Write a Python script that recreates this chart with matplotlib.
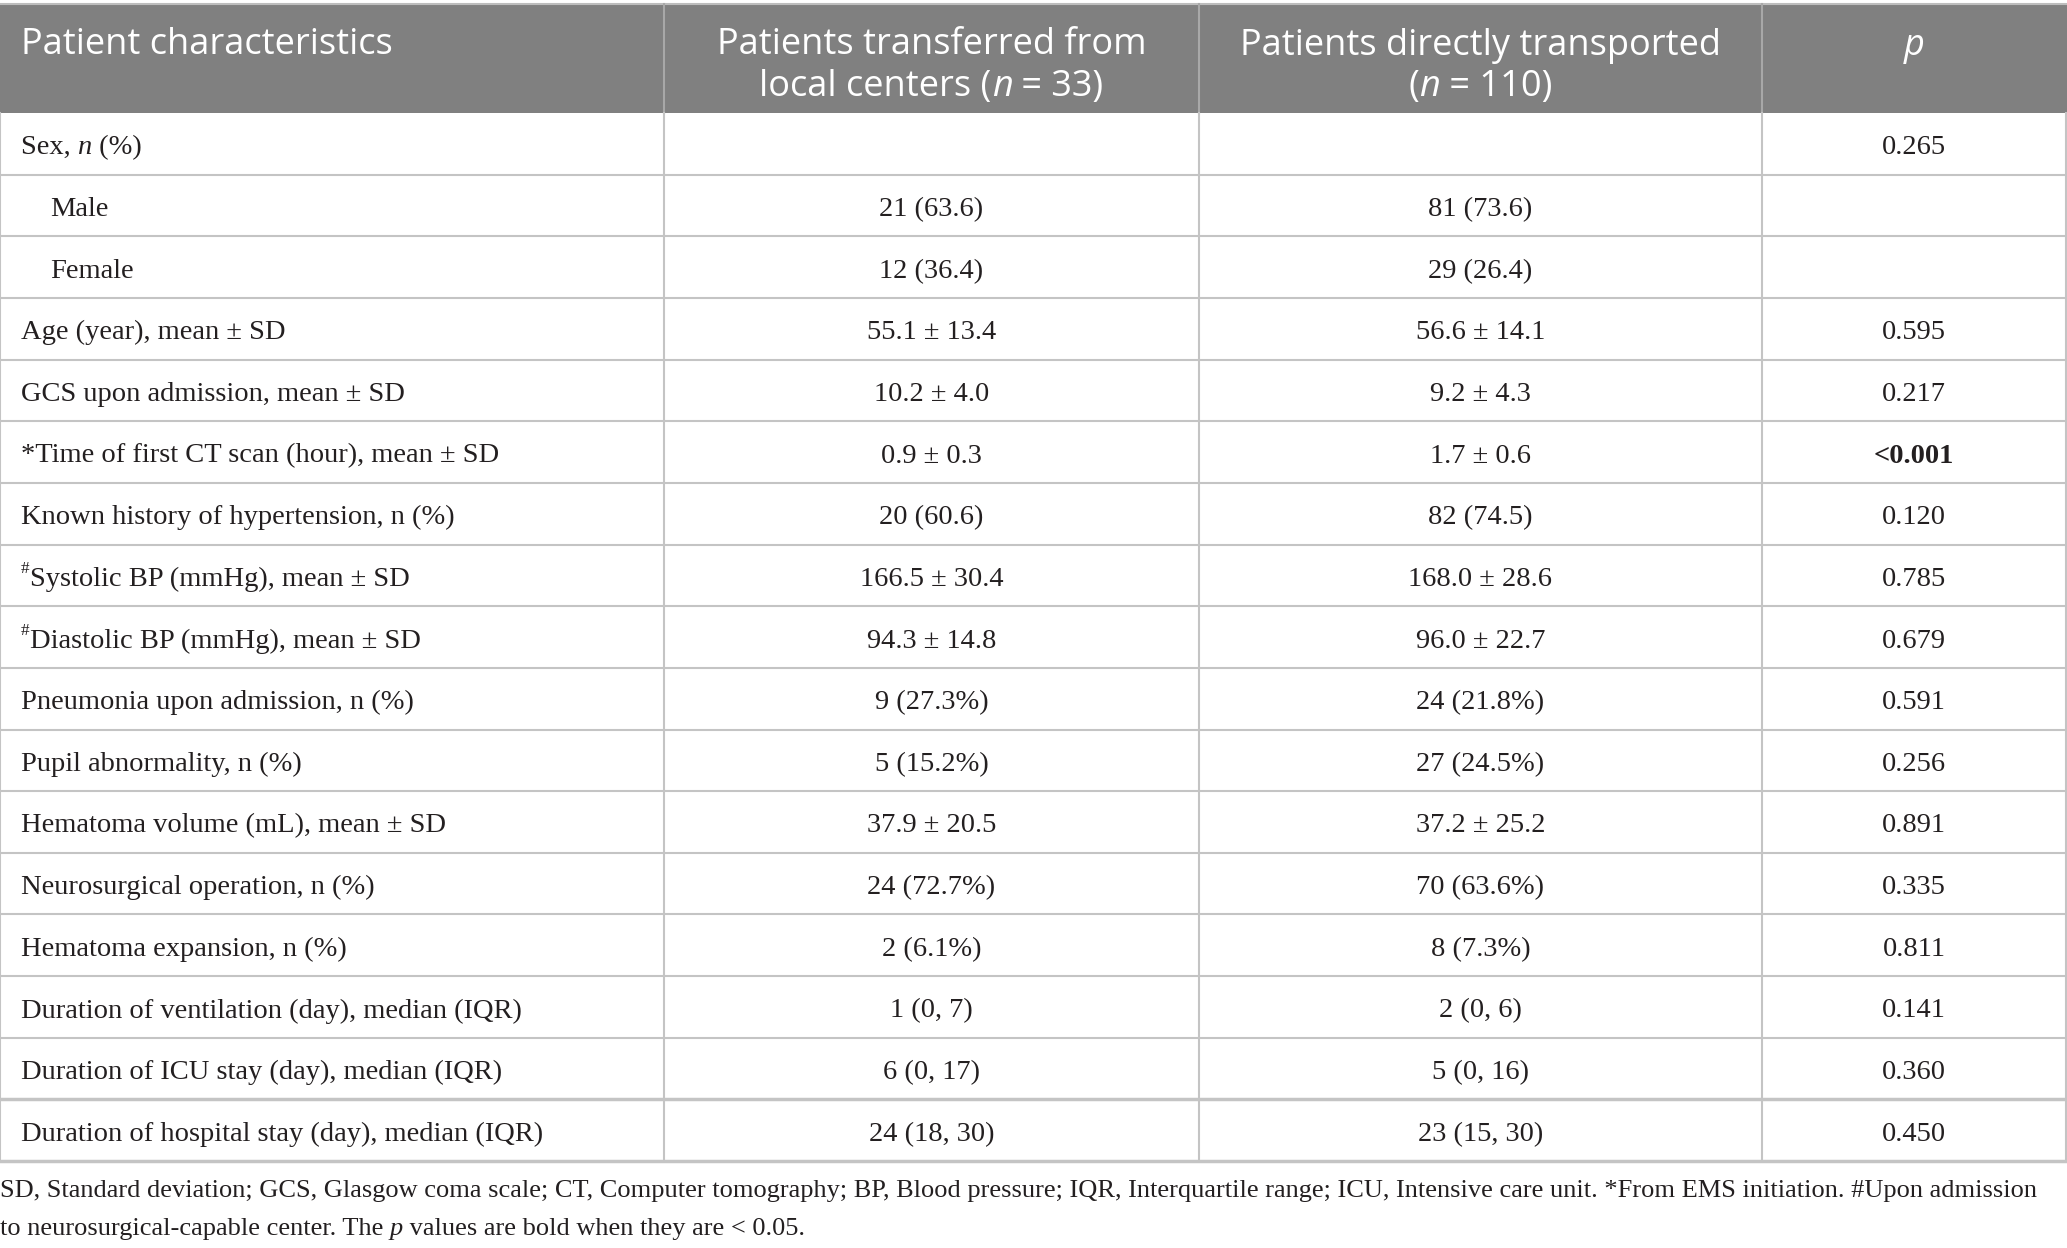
import matplotlib.pyplot as plt
from matplotlib.font_manager import FontProperties

W, H = 2067, 1248

headers = ["Patient characteristics",
           "Patients transferred from\nlocal centers ($n$ = 33)",
           "Patients directly transported\n($n$ = 110)",
           "$p$"]

labels = ["Sex, $n$ (%)", "Male", "Female", "Age (year), mean ± SD",
          "GCS upon admission, mean ± SD",
          "*Time of first CT scan (hour), mean ± SD",
          "Known history of hypertension, n (%)",
          "^#Systolic BP (mmHg), mean ± SD",
          "^#Diastolic BP (mmHg), mean ± SD",
          "Pneumonia upon admission, n (%)",
          "Pupil abnormality, n (%)",
          "Hematoma volume (mL), mean ± SD",
          "Neurosurgical operation, n (%)",
          "Hematoma expansion, n (%)",
          "Duration of ventilation (day), median (IQR)",
          "Duration of ICU stay (day), median (IQR)",
          "Duration of hospital stay (day), median (IQR)"]
level = [0, 1, 1, 0, 0, 0, 0, 0, 0, 0, 0, 0, 0, 0, 0, 0, 0]

transferred = ["", "21 (63.6)", "12 (36.4)", "55.1 ± 13.4", "10.2 ± 4.0",
               "0.9 ± 0.3", "20 (60.6)", "166.5 ± 30.4", "94.3 ± 14.8",
               "9 (27.3%)", "5 (15.2%)", "37.9 ± 20.5", "24 (72.7%)",
               "2 (6.1%)", "1 (0, 7)", "6 (0, 17)", "24 (18, 30)"]
direct = ["", "81 (73.6)", "29 (26.4)", "56.6 ± 14.1", "9.2 ± 4.3",
          "1.7 ± 0.6", "82 (74.5)", "168.0 ± 28.6", "96.0 ± 22.7",
          "24 (21.8%)", "27 (24.5%)", "37.2 ± 25.2", "70 (63.6%)",
          "8 (7.3%)", "2 (0, 6)", "5 (0, 16)", "23 (15, 30)"]
p_values = ["0.265", "", "", "0.595", "0.217", "<0.001", "0.120", "0.785",
            "0.679", "0.591", "0.256", "0.891", "0.335", "0.811", "0.141",
            "0.360", "0.450"]

footnotes = ["SD, Standard deviation; GCS, Glasgow coma scale; CT, Computer tomography; "
             "BP, Blood pressure; IQR, Interquartile range; ICU, Intensive care unit. "
             "*From EMS initiation. #Upon admission",
             "to neurosurgical-capable center. The $p$ values are bold when they are < 0.05."]

# layout (pixels)
col_x = [0, 664, 1199, 1762, W - 1]
head_top, head_bot = 4, 113
row_h = 61.65
line_c = "#c4c4c4"
ink = "#231f20"

SERIF = "Liberation Serif"
SANS = "Open Sans"
body_size = 20.5
foot_size = 19
head_size = 26

fig = plt.figure(figsize=(W / 100, H / 100), dpi=100)
ax = fig.add_axes([0, 0, 1, 1])
ax.set_xlim(0, W)
ax.set_ylim(H, 0)
ax.axis("off")
renderer = fig.canvas.get_renderer()


def fprop(family, size, style="normal", weight="normal"):
    return FontProperties(family=family, size=size, style=style, weight=weight)


def text_width(s, fp):
    t = ax.text(0, 0, s + "|", fontproperties=fp)
    w1 = t.get_window_extent(renderer).width
    t.remove()
    t = ax.text(0, 0, "|", fontproperties=fp)
    w2 = t.get_window_extent(renderer).width
    t.remove()
    return w1 - w2


def parse(s, family, size, weight="normal"):
    runs = []
    if s.startswith("^"):
        runs.append((s[1], fprop(family, size * 0.6, weight=weight), -size * 0.45))
        s = s[2:]
    for i, part in enumerate(s.split("$")):
        if part:
            style = "italic" if i % 2 else "normal"
            runs.append((part, fprop(family, size, style, weight), 0))
    return runs


def draw_runs(x, y, runs, ha="left", color=ink):
    widths = [text_width(s, fp) for s, fp, _ in runs]
    total = sum(widths)
    if ha == "center":
        x = x - total / 2
    for (s, fp, dy), w in zip(runs, widths):
        ax.text(x, y + dy, s, fontproperties=fp, color=color,
                ha="left", va="center_baseline")
        x += w


# header
ax.fill_between([0, W], head_top, head_bot, color="#808080", lw=0)
ax.plot([0, W], [head_top, head_top], color="#bdbdbd", lw=1.5)
for x in col_x[1:-1]:
    ax.plot([x, x], [head_top, head_bot], color="#a8a8a8", lw=1.5)
for j, h in enumerate(headers):
    for k, line in enumerate(h.split("\n")):
        y = 41 + k * 41
        runs = parse(line, SANS, head_size)
        if j == 0:
            draw_runs(21, y, runs, color="white")
        else:
            draw_runs((col_x[j] + col_x[j + 1]) / 2, y, runs, ha="center", color="white")

# body
n = len(labels)
for i in range(n):
    top = head_bot + i * row_h
    yc = top + row_h / 2 + 1
    draw_runs(21 + 29 * level[i], yc, parse(labels[i], SERIF, body_size))
    draw_runs((col_x[1] + col_x[2]) / 2, yc, parse(transferred[i], SERIF, body_size), ha="center")
    draw_runs((col_x[2] + col_x[3]) / 2, yc, parse(direct[i], SERIF, body_size), ha="center")
    pv = p_values[i]
    if pv:
        bold = pv.startswith("<") or float(pv) < 0.05
        draw_runs((col_x[3] + col_x[4]) / 2, yc,
                  parse(pv, SERIF, body_size, "bold" if bold else "normal"), ha="center")
    ax.plot([0, W], [top + row_h, top + row_h], color=line_c,
            lw=2.5 if i >= n - 2 else 1.5)

bottom = head_bot + n * row_h
for x in col_x:
    ax.plot([x, x], [head_bot, bottom], color=line_c, lw=1.5)

# footnotes
for k, line in enumerate(footnotes):
    draw_runs(0, 1189 + k * 37, parse(line, SERIF, foot_size))

fig.savefig("out.png", dpi=100, facecolor="white")
